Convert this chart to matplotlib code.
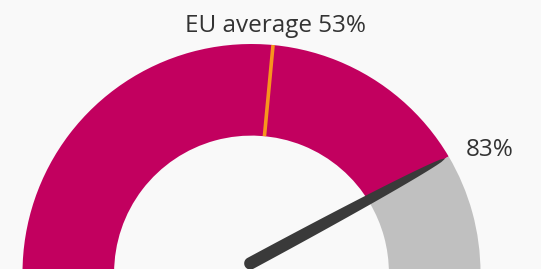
import numpy as np
import matplotlib.pyplot as plt
from matplotlib.patches import Wedge, Polygon

# gauge values (percent)
value = 83
eu_avg = 53
value_label = "83%"
avg_label = "EU average 53%"

bg = "#f9f9f9"
fill_color = "#c2005f"
rest_color = "#c0c0c0"
avg_color = "#f7941d"
needle_color = "#3a3a3a"
text_color = "#333333"

r_out = 1.0
r_in = 0.6


def pct_to_deg(p):
    return 180 - p * 1.8


fig = plt.figure(figsize=(5.41, 2.69), dpi=100, facecolor=bg)
ax = fig.add_axes([0, 0, 1, 1])
ax.set_facecolor(bg)
# centre of the gauge sits just below the bottom edge of the picture
ax.set_xlim(-251.5 / 229, (541 - 251.5) / 229)
ax.set_ylim(4 / 229, 273 / 229)
ax.axis("off")

# coloured band and grey rest
ax.add_patch(Wedge((0, 0), r_out, pct_to_deg(value), 180, width=r_out - r_in,
                   facecolor=fill_color, edgecolor="none"))
ax.add_patch(Wedge((0, 0), r_out, 0, pct_to_deg(value), width=r_out - r_in,
                   facecolor=rest_color, edgecolor="none"))

# EU average marker
a = np.radians(pct_to_deg(eu_avg))
ax.plot([r_in * np.cos(a), r_out * np.cos(a)], [r_in * np.sin(a), r_out * np.sin(a)],
        color=avg_color, lw=2.6, solid_capstyle="butt")

# needle: spindle shape, rounded at the pivot end
t = np.radians(pct_to_deg(value))
base = np.array([-0.005, 0.042])
tip = 0.985 * np.array([np.cos(t), np.sin(t)])
length = np.linalg.norm(tip - base)
d = (tip - base) / length
n = np.array([-d[1], d[0]])
base_r = 0.027
s = np.linspace(0, 1, 40)
half_w = base_r * np.sqrt(1 - s ** 2)
upper = [base + si * length * d + wi * n for si, wi in zip(s, half_w)]
lower = [base + si * length * d - wi * n for si, wi in zip(s, half_w)]
arc = np.linspace(np.pi / 2, 3 * np.pi / 2, 20)
back = [base + base_r * (np.cos(q) * d + np.sin(q) * n) for q in arc]
pts = upper[::-1] + back + lower
ax.add_patch(Polygon(pts, closed=True, facecolor=needle_color, edgecolor="none"))

# labels
ax.text(0.103, 1.052, avg_label, ha="center", va="baseline", fontsize=17.5,
        family="Open Sans", color=text_color)
ax.text(0.937, 0.511, value_label, ha="left", va="baseline", fontsize=17.5,
        family="Open Sans", color=text_color)

fig.savefig("out.png", dpi=100, facecolor=bg)
